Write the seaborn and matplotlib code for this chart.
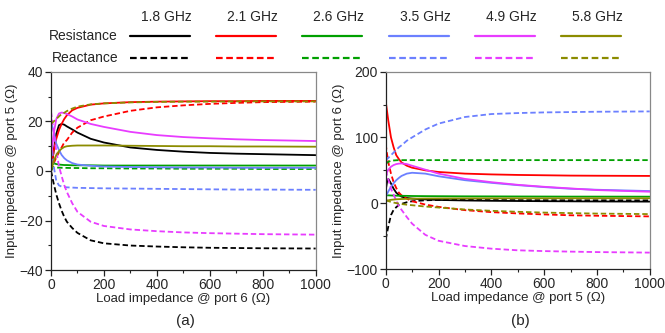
import numpy as np
import pandas as pd
import matplotlib
matplotlib.use("Agg")
import matplotlib.pyplot as plt
from matplotlib.lines import Line2D
import seaborn as sns

# ---------------- data ----------------
freqs = ["1.8 GHz", "2.1 GHz", "2.6 GHz", "3.5 GHz", "4.9 GHz", "5.8 GHz"]
colors = ["#000000", "#FF0000", "#00A000", "#6C80FF", "#E83CFF", "#8C8C00"]

load = [0, 5, 10, 20, 30, 40, 50, 60, 80, 100, 150, 200, 300, 400, 500, 600, 700, 800, 1000]

# panel (a): input impedance @ port 5 vs load @ port 6
a_res_18 = [0, 4, 8, 15, 18.5, 19, 18.7, 18, 16.8, 15.5, 13, 11.5, 9.5, 8.5, 7.8, 7.3, 7.0, 6.8, 6.4]
a_rea_18 = [0, -2.5, -5, -9.5, -13, -16, -18.5, -20.5, -23, -25, -28, -29.2, -30.1, -30.5, -30.8, -31, -31.1, -31.2, -31.3]
a_res_21 = [0, 4, 8, 13, 16.5, 19, 21, 22.5, 24.5, 25.5, 26.8, 27.3, 27.8, 28, 28.1, 28.2, 28.2, 28.3, 28.3]
a_rea_21 = [0, 1.5, 3, 5.5, 7.5, 9.5, 11.5, 12.5, 15.5, 17.5, 20.5, 22, 24.3, 25.7, 26.5, 27.1, 27.5, 27.8, 28]
a_res_26 = [0, 2.5, 3.1, 2.8, 2.6, 2.5, 2.4, 2.4, 2.3, 2.3, 2.3, 2.2, 2.2, 2.2, 2.2, 2.2, 2.2, 2.2, 2.2]
a_rea_26 = [0, 1.2, 1.5, 1.4, 1.35, 1.3, 1.3, 1.25, 1.2, 1.2, 1.1, 1.1, 1.0, 1.0, 0.9, 0.9, 0.9, 0.8, 0.8]
a_res_35 = [20, 18, 16, 11, 8.5, 6.5, 5.2, 4.3, 3.2, 2.6, 2.1, 1.8, 1.6, 1.5, 1.4, 1.4, 1.3, 1.3, 1.3]
a_rea_35 = [15, 8, 2, -4, -5.8, -6.3, -6.5, -6.6, -6.7, -6.8, -6.9, -7.0, -7.1, -7.2, -7.3, -7.4, -7.5, -7.5, -7.6]
a_res_49 = [5, 10, 15, 21, 23.2, 23.6, 23.4, 23, 22, 20.8, 19, 17.8, 15.8, 14.5, 13.7, 13.2, 12.8, 12.5, 12.1]
a_rea_49 = [24, 20, 16, 8, 2, -2, -5.7, -8.5, -13, -16.5, -20.5, -22.2, -23.6, -24.3, -24.8, -25.1, -25.3, -25.5, -25.7]
a_res_58 = [0, 2, 4, 6.5, 8, 9, 9.7, 10, 10.2, 10.3, 10.3, 10.3, 10.2, 10.1, 10, 10, 9.9, 9.9, 9.8]
a_rea_58 = [19, 19.5, 20, 21, 22, 23, 23.5, 24.2, 25.2, 26, 26.9, 27.3, 27.7, 27.9, 28, 28, 28.1, 28.1, 28.1]

# panel (b): input impedance @ port 6 vs load @ port 5
b_res_18 = [20, 32, 37, 30, 22, 16, 12.5, 10, 8, 7, 5.8, 5, 4.2, 3.7, 3.4, 3.1, 2.9, 2.7, 2.5]
b_rea_18 = [-55, -45, -35, -18, -10, -6, -2.5, -1, 1.5, 3, 4.5, 5, 5, 4.8, 4.7, 4.6, 4.5, 4.5, 4.4]
b_res_21 = [155, 140, 125, 100, 85, 73, 67, 62, 57, 54, 50, 47.5, 45, 43.8, 43, 42.5, 42, 41.8, 41.5]
b_rea_21 = [90, 75, 62, 45, 32, 23, 16, 12, 7, 3, -2, -5.5, -10.5, -13.5, -15.5, -17, -18.3, -19, -20]
b_res_26 = [12, 12, 12, 11.8, 11.6, 11.5, 11.4, 11.3, 11.2, 11, 10.8, 10.7, 10.5, 10.4, 10.3, 10.2, 10.1, 10.1, 10]
b_rea_26 = [60, 61.5, 63, 64.5, 65, 65.3, 65.5, 65.5, 65.5, 65.5, 65.5, 65.5, 65.5, 65.5, 65.5, 65.5, 65.5, 65.5, 65.5]
b_res_35 = [10, 14, 18, 25, 30.5, 35, 38.5, 41.5, 45, 46.3, 45, 41, 35, 31, 27.5, 24.5, 22, 20.5, 18.5]
b_rea_35 = [65, 67, 69, 73, 77, 81, 85, 88, 95, 100, 112, 121, 131, 135.5, 137, 138, 138.5, 139, 139.5]
b_res_49 = [42, 47, 51, 55.5, 58, 59.5, 60.2, 60.5, 59.5, 57, 51, 45, 37, 32, 28, 25, 22.5, 20, 17.5]
b_rea_49 = [50, 43, 36, 22, 13, 4, -5, -10, -21, -31, -48, -57, -65, -69, -71.5, -72.7, -73.5, -74.2, -75]
b_res_58 = [3, 4, 4.5, 5.2, 5.6, 6, 6.2, 6.4, 6.7, 7, 7.2, 7.3, 7.4, 7.5, 7.5, 7.5, 7.5, 7.5, 7.5]
b_rea_58 = [5, 4, 3.2, 2, 1, 0.2, -0.5, -1.2, -2.2, -3, -5, -6.5, -9.5, -11.5, -13, -14.2, -15, -15.7, -16.5]

a_res = [a_res_18, a_res_21, a_res_26, a_res_35, a_res_49, a_res_58]
a_rea = [a_rea_18, a_rea_21, a_rea_26, a_rea_35, a_rea_49, a_rea_58]
b_res = [b_res_18, b_res_21, b_res_26, b_res_35, b_res_49, b_res_58]
b_rea = [b_rea_18, b_rea_21, b_rea_26, b_rea_35, b_rea_49, b_rea_58]

# ---------------- style ----------------
sns.set_theme(style="ticks")
plt.rcParams["font.family"] = ["Liberation Sans", "DejaVu Sans"]
plt.rcParams["font.size"] = 9.5
plt.rcParams["lines.dashed_pattern"] = [3.0, 1.6]

fig = plt.figure(figsize=(6.65, 3.33), dpi=100)
ax_a = fig.add_axes([0.0767, 0.189, 0.398, 0.595])
ax_b = fig.add_axes([0.580, 0.192, 0.397, 0.593])

def draw(ax, res, rea):
    for c, r, x in zip(colors, res, rea):
        sns.lineplot(x=load, y=r, ax=ax, color=c, lw=1.3, linestyle="-")
        sns.lineplot(x=load, y=x, ax=ax, color=c, lw=1.3, linestyle="--")

draw(ax_a, a_res, a_rea)
draw(ax_b, b_res, b_rea)

for ax in (ax_a, ax_b):
    ax.set_xlim(0, 1000)
    ax.set_xticks([0, 200, 400, 600, 800, 1000])
    ax.set_xticks(range(100, 1000, 200), minor=True)
    for s in ("top", "right"):
        ax.spines[s].set_visible(True)
        ax.spines[s].set_color("#888888")
    for s in ("left", "bottom"):
        ax.spines[s].set_color("#222222")
    for s in ax.spines.values():
        s.set_linewidth(0.9)
    ax.tick_params(which="major", direction="out", length=4, width=0.9,
                   labelsize=10, pad=1.5, color="#222222")
    ax.tick_params(which="minor", direction="out", length=2.5, width=0.8, color="#222222")

ax_a.set_ylim(-40, 40)
ax_a.set_yticks([-40, -20, 0, 20, 40])
ax_a.set_yticks([-30, -10, 10, 30], minor=True)
ax_b.set_ylim(-100, 200)
ax_b.set_yticks([-100, 0, 100, 200])
ax_b.set_yticks([-50, 50, 150], minor=True)

ax_a.set_xlabel("Load impedance @ port 6 (Ω)", fontsize=9.5, labelpad=1)
ax_a.set_ylabel("Input impedance @ port 5 (Ω)", fontsize=9.5, labelpad=1)
ax_b.set_xlabel("Load impedance @ port 5 (Ω)", fontsize=9.5, labelpad=1)
ax_b.set_ylabel("Input impedance @ port 6 (Ω)", fontsize=9.5, labelpad=1)

fig.text(185 / 665, 1 - 321 / 333, "(a)", ha="center", va="center", fontsize=11)
fig.text(520 / 665, 1 - 321 / 333, "(b)", ha="center", va="center", fontsize=11)

# ---------------- legend grid ----------------
W, H = 665.0, 333.0
fig.text(118 / W, 1 - 36 / H, "Resistance", ha="right", va="center", fontsize=10)
fig.text(118 / W, 1 - 58 / H, "Reactance", ha="right", va="center", fontsize=10)
for i, (f, c) in enumerate(zip(freqs, colors)):
    x0 = 130 + i * 86.2
    x1 = x0 + 60
    fig.text((x1 + 2) / W, 1 - 17 / H, f, ha="right", va="center", fontsize=10)
    fig.add_artist(Line2D([x0 / W, x1 / W], [1 - 36 / H, 1 - 36 / H],
                          color=c, lw=1.6, transform=fig.transFigure))
    fig.add_artist(Line2D([x0 / W, x1 / W], [1 - 58 / H, 1 - 58 / H],
                          color=c, lw=1.6, ls="--", transform=fig.transFigure))

fig.savefig("out.png", dpi=100)
